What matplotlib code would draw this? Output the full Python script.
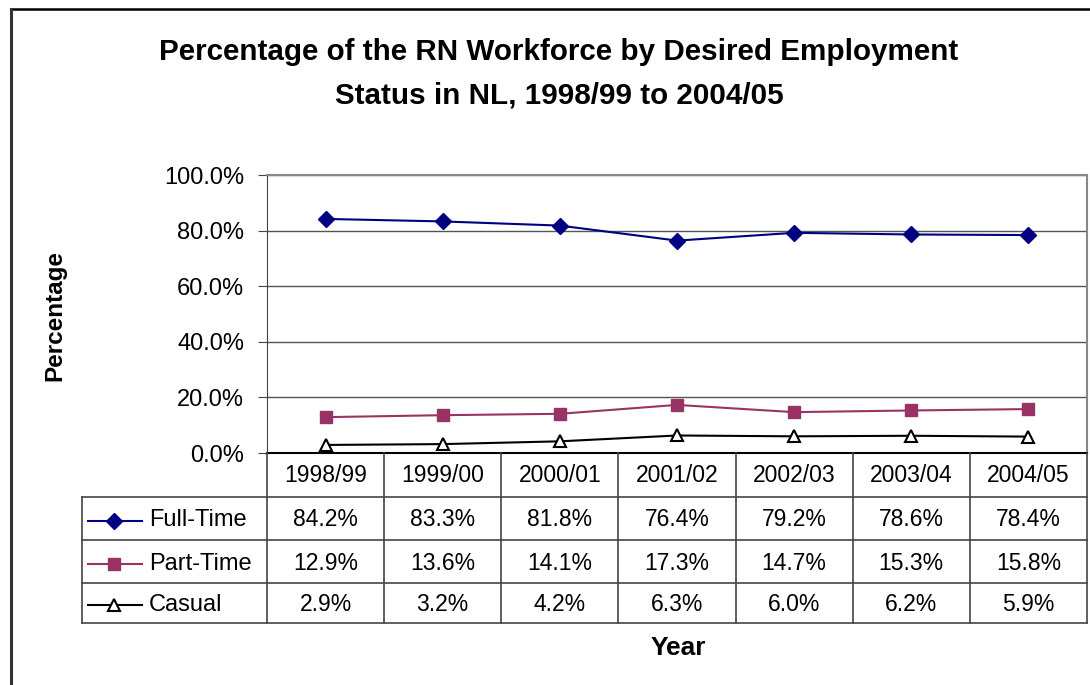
import matplotlib
matplotlib.use("Agg")
import matplotlib.pyplot as plt
from matplotlib.lines import Line2D
import numpy as np

plt.rcParams['font.family'] = ['Liberation Sans', 'DejaVu Sans']

# data
years = ['1998/99', '1999/00', '2000/01', '2001/02', '2002/03', '2003/04', '2004/05']
full_time = [84.2, 83.3, 81.8, 76.4, 79.2, 78.6, 78.4]
part_time = [12.9, 13.6, 14.1, 17.3, 14.7, 15.3, 15.8]
casual = [2.9, 3.2, 4.2, 6.3, 6.0, 6.2, 5.9]
series_names = ['Full-Time', 'Part-Time', 'Casual']
yticks = [0, 20, 40, 60, 80, 100]

W, H = 1090, 685
fig = plt.figure(figsize=(W/100, H/100), dpi=100)

def fx(x): return x/W
def fy(y): return 1 - y/H

def hline(y, x0, x1, color='#444444', lw=1.2):
    fig.add_artist(Line2D([fx(x0), fx(x1)], [fy(y), fy(y)], color=color, lw=lw, transform=fig.transFigure))

def vline(x, y0, y1, color='#444444', lw=1.2):
    fig.add_artist(Line2D([fx(x), fx(x)], [fy(y0), fy(y1)], color=color, lw=lw, transform=fig.transFigure))

# outer chart border (only left and top visible)
hline(9, 11, W, color='black', lw=1.8)
vline(11, 9, H, color='#333333', lw=2.2)

# plot area
L, R, T, B = 267, 1087, 175, 453
ax = fig.add_axes([fx(L), fy(B), fx(R - L), (B - T)/H])
x = np.arange(len(years))
styles = [
    dict(color='#000080', marker='D', ms=8, mfc='#000080', mec='#000080'),
    dict(color='#993366', marker='s', ms=8, mfc='#993366', mec='#993366'),
    dict(color='black', marker='^', ms=9, mfc='white', mec='black', mew=1.5),
]
for vals, st in zip([full_time, part_time, casual], styles):
    ax.plot(x, vals, lw=1.5, clip_on=False, zorder=3, **st)

ax.set_xlim(-0.5, len(years) - 0.5)
ax.set_ylim(0, 100)
ax.set_yticks(yticks)
ax.set_yticklabels([f'{v:.1f}%' for v in yticks], fontsize=17)
ax.set_xticks([])
ax.grid(axis='y', color='#555555', lw=1)
for s in ['top', 'right']:
    ax.spines[s].set_color('#888888')
    ax.spines[s].set_linewidth(1.5)
ax.spines['left'].set_color('#444444')
ax.spines['bottom'].set_color('black')
ax.spines['bottom'].set_linewidth(1.5)
ax.tick_params(axis='y', length=6.5, color='#444444', pad=10)

# data table
col_w = (R - L) / len(years)
edges = [L + i * col_w for i in range(len(years) + 1)]
rows = [453, 497, 540, 583, 623]
for e in edges:
    vline(e, rows[0], rows[-1])
vline(82, rows[1], rows[-1])
for r in rows[1:]:
    hline(r, 82, R)

fs = 16.5
for i, yr in enumerate(years):
    fig.text(fx((edges[i] + edges[i+1]) / 2), fy((rows[0] + rows[1]) / 2 + 1), yr,
             ha='center', va='center', fontsize=fs)
for j, (name, vals, st) in enumerate(zip(series_names, [full_time, part_time, casual], styles)):
    yc = (rows[j+1] + rows[j+2]) / 2
    fig.add_artist(Line2D([fx(88), fx(142)], [fy(yc + 2), fy(yc + 2)], transform=fig.transFigure,
                          color=st['color'], lw=1.5))
    fig.add_artist(Line2D([fx(114)], [fy(yc + 2)], transform=fig.transFigure, ls='none',
                          marker=st['marker'], ms=st['ms'], mfc=st['mfc'], mec=st['mec'],
                          mew=st.get('mew', 1)))
    fig.text(fx(149), fy(yc + 2), name, ha='left', va='center', fontsize=fs + 0.5)
    for i, v in enumerate(vals):
        fig.text(fx((edges[i] + edges[i+1]) / 2), fy(yc + 1.5), f'{v:.1f}%',
                 ha='center', va='center', fontsize=fs)

# titles
fig.text(fx(559), fy(52), 'Percentage of the RN Workforce by Desired Employment',
         ha='center', va='center', fontsize=21.3, fontweight='bold')
fig.text(fx(559), fy(96), 'Status in NL, 1998/99 to 2004/05',
         ha='center', va='center', fontsize=21.3, fontweight='bold')
fig.text(fx(55), fy(316), 'Percentage', rotation=90, ha='center', va='center',
         fontsize=17.5, fontweight='bold')
fig.text(fx(678), fy(648), 'Year', ha='center', va='center', fontsize=19, fontweight='bold')

fig.savefig('out.png', dpi=100)
